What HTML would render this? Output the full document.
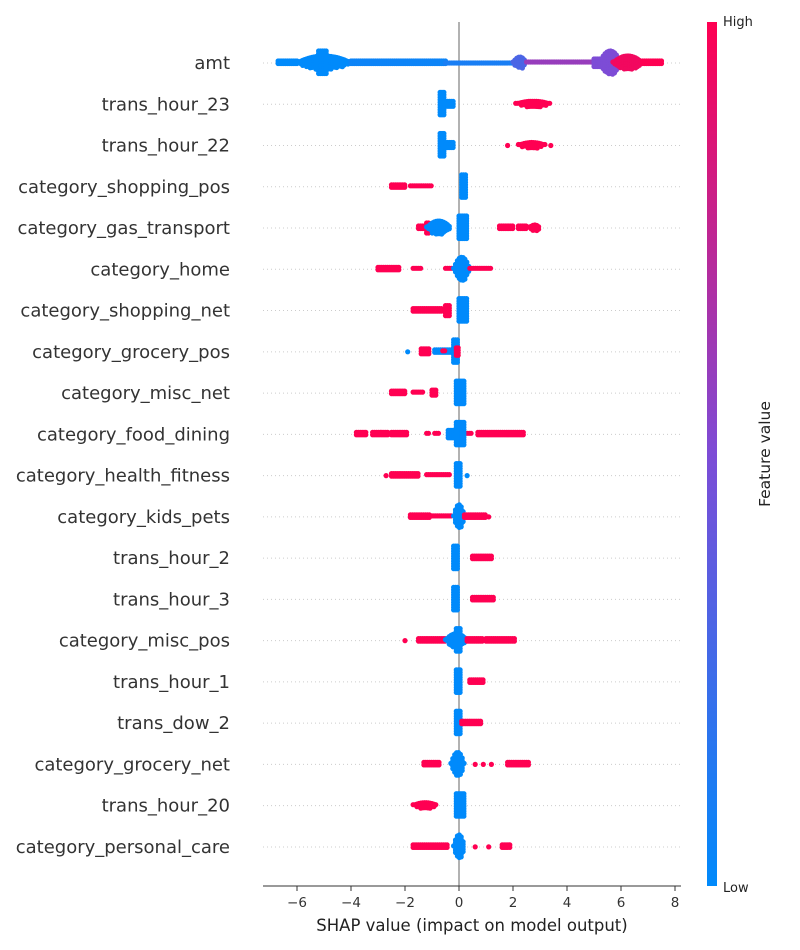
<!DOCTYPE html>
<html><head><meta charset="utf-8"><style>
html,body{margin:0;padding:0;background:#fff;}
svg{display:block;font-family:"DejaVu Sans","Liberation Sans",sans-serif;}
</style></head><body>
<svg id="chart" width="800" height="950" viewBox="0 0 800 950">
<defs>
<linearGradient id="cbar" x1="0" y1="1" x2="0" y2="0">
<stop offset="0" stop-color="#008afb"/><stop offset="0.5" stop-color="#7d4cd6"/><stop offset="1" stop-color="#ff0052"/>
</linearGradient>
</defs>
<g id="grid"></g>
<line x1="459" y1="22" x2="459" y2="886" stroke="#999" stroke-width="1.5"/>
<g id="dots"></g>
<g id="labels"></g>
<line x1="263" y1="886" x2="681" y2="886" stroke="#333" stroke-width="1"/>
<g id="xticks"></g>
<text x="472" y="931" text-anchor="middle" font-size="16.5" fill="#222">SHAP value (impact on model output)</text>
<rect x="707" y="22" width="10" height="864" fill="url(#cbar)"/>
<text x="723" y="26" font-size="13" fill="#222">High</text>
<text x="723" y="892" font-size="13" fill="#222">Low</text>
<text transform="translate(770,454) rotate(-90)" text-anchor="middle" font-size="15.5" fill="#222">Feature value</text>
</svg>
<script>
const features = ["amt","trans_hour_23","trans_hour_22","category_shopping_pos","category_gas_transport","category_home","category_shopping_net","category_grocery_pos","category_misc_net","category_food_dining","category_health_fitness","category_kids_pets","trans_hour_2","trans_hour_3","category_misc_pos","trans_hour_1","trans_dow_2","category_grocery_net","trans_hour_20","category_personal_care"];
const xTicks = [-6,-4,-2,0,2,4,6,8];
// segments per feature: [startShap, endShap, featureValue(0..1), halfSpread]
const segments = [
 [[-6.7,-6.0,0,2],[-6.0,-4.0,0,7],[-5.2,-4.9,0,12],[-4.0,-0.5,0.05,2],[-0.5,2.0,0.1,0],[2.0,2.5,0.3,6],[2.5,5.0,0.6,1],[5.0,5.3,0.5,4],[5.2,6.0,0.5,12],[5.7,6.8,0.95,7],[6.8,7.5,1,2]],
 [[-0.7,-0.5,0,12],[-0.5,-0.2,0,3],[2.1,3.4,1,3]],
 [[-0.7,-0.5,0,12],[-0.5,-0.2,0,3],[1.8,1.8,1,0],[2.2,3.2,1,3],[3.4,3.4,1,0]],
 [[-2.5,-2.0,1,2],[-1.8,-1.0,1,1],[0.1,0.3,0,12]],
 [[-1.5,-1.0,1,2],[-1.2,-1.1,1,5],[-1.2,-0.3,0,7],[0,0.3,0,12],[1.5,2.0,1,2],[2.2,2.5,1,2],[2.6,3.0,1,3]],
 [[-3.0,-2.2,1,2],[-1.7,-1.4,1,1],[-0.5,-0.2,1,1],[-0.2,0.4,0,12],[0.4,1.2,1,1]],
 [[-1.7,-0.6,1,2],[-0.5,-0.3,1,5],[0,0.3,0,12]],
 [[-1.9,-1.9,0,0],[-1.4,-1.1,1,3],[-0.9,-0.2,0,2],[-0.6,-0.5,1,1],[-0.2,0,0,12],[-0.1,0,1,4]],
 [[-2.5,-2.0,1,2],[-1.7,-1.3,1,1],[-1.0,-0.8,1,3],[-0.1,0.2,0,12]],
 [[-3.8,-3.4,1,2],[-3.2,-2.6,1,2],[-2.5,-1.9,1,2],[-1.2,-1.1,1,1],[-0.9,-0.7,1,1],[0.1,0.5,1,1],[0.7,2.4,1,2],[-0.4,-0.1,0,4],[-0.1,0.2,0,12]],
 [[-2.7,-2.7,1,0],[-2.5,-1.5,1,2],[-1.2,-0.3,1,1],[-0.1,0.1,0,12],[0.3,0.3,0,0]],
 [[-1.8,-1.1,1,2],[-1.0,-0.3,1,1],[-0.2,0.2,0,12],[0.2,1.0,1,2],[1.1,1.1,1,0]],
 [[-0.2,0,0,12],[0.5,1.2,1,2]],
 [[-0.2,0,0,12],[0.5,1.3,1,2]],
 [[-2.0,-2.0,1,0],[-1.5,-0.5,1,2],[-0.5,0.3,0,7],[-0.1,0.1,0,12],[0.3,0.9,1,2],[1.0,2.1,1,2]],
 [[-0.1,0.1,0,12],[0.4,0.9,1,2]],
 [[-0.1,0.1,0,12],[0.1,0.8,1,2]],
 [[-1.3,-0.7,1,2],[-0.3,0.2,0,12],[0.6,0.6,1,0],[0.9,0.9,1,0],[1.2,1.2,1,0],[1.8,2.6,1,2]],
 [[-1.7,-0.8,1,3],[-0.1,0.2,0,12]],
 [[-1.7,-0.4,1,2],[-0.2,0.2,0,12],[0.6,0.6,1,0],[1.1,1.1,1,0],[1.6,1.9,1,2]]
];
const NS="http://www.w3.org/2000/svg";
const xScale = v => 459 + v*27;
const yScale = i => 63 + i*41.26;
function color(t){
  const a=[0,138,251], m=[125,76,214], b=[255,0,82];
  let c;
  if(t<0.5){const u=t/0.5;c=a.map((x,k)=>Math.round(x+(m[k]-x)*u));}
  else{const u=(t-0.5)/0.5;c=m.map((x,k)=>Math.round(x+(b[k]-x)*u));}
  return `rgb(${c[0]},${c[1]},${c[2]})`;
}
const grid=document.getElementById('grid'), dots=document.getElementById('dots'), labels=document.getElementById('labels'), xt=document.getElementById('xticks');
features.forEach((f,i)=>{
  const y=yScale(i);
  const gl=document.createElementNS(NS,'line');
  gl.setAttribute('x1',263);gl.setAttribute('x2',681);gl.setAttribute('y1',y);gl.setAttribute('y2',y);
  gl.setAttribute('stroke','#ccc');gl.setAttribute('stroke-width','1');gl.setAttribute('stroke-dasharray','1,3');
  
  
  grid.appendChild(gl);
  const t=document.createElementNS(NS,'text');
  t.setAttribute('x',230);t.setAttribute('y',y+6);t.setAttribute('text-anchor','end');t.setAttribute('font-size','18');t.setAttribute('fill','#333');
  t.textContent=f;
  
  
  labels.appendChild(t);
  const g=document.createElementNS(NS,'g');
  
  
  segments[i].forEach(s=>{
    const [x0,x1,cv,h]=s;
    const fill=color(cv);
    const w=x1-x0;
    for(let v=x0; v<=x1+1e-9; v+=0.07){
      let he=h;
      if(w>0.35 && h>=3){const u=(v-x0)/w; he=Math.max(1,h*(1-Math.pow(2*u-1,2)));}
      for(let dy=-he; dy<=he+1e-9; dy+=2.5){
        const c=document.createElementNS(NS,'circle');
        c.setAttribute('cx',xScale(v).toFixed(1));c.setAttribute('cy',(y+dy).toFixed(1));c.setAttribute('r','2.6');c.setAttribute('fill',fill);
        g.appendChild(c);
      }
      if(x1===x0) break;
    }
  });
  dots.appendChild(g);
});
xTicks.forEach(v=>{
  const x=xScale(v);
  const l=document.createElementNS(NS,'line');
  l.setAttribute('x1',x);l.setAttribute('x2',x);l.setAttribute('y1',886);l.setAttribute('y2',891);l.setAttribute('stroke','#333');
  
  
  xt.appendChild(l);
  const t=document.createElementNS(NS,'text');
  t.setAttribute('x',x);t.setAttribute('y',907);t.setAttribute('text-anchor','middle');t.setAttribute('font-size','13.5');t.setAttribute('fill','#333');
  t.textContent=v<0?'\u2212'+Math.abs(v):String(v);
  
  
  xt.appendChild(t);
});
</script>
</body></html>
